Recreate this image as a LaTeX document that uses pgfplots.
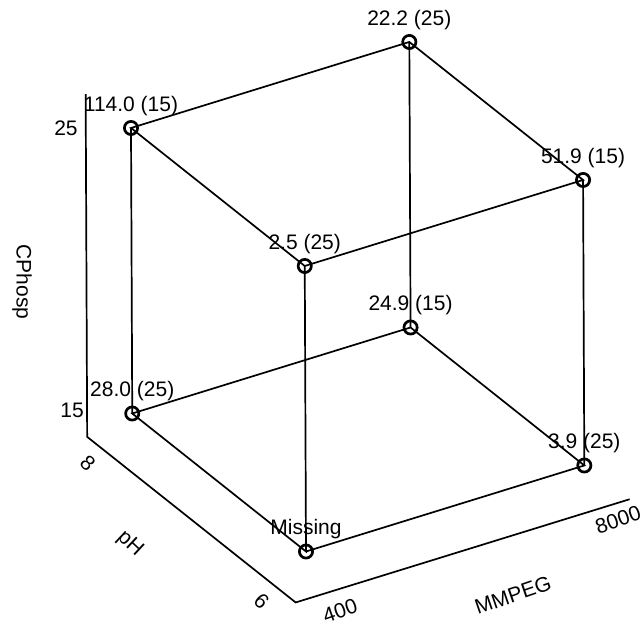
\documentclass[border=0pt]{standalone}
\usepackage{fontspec}
\setmainfont{Liberation Sans}
\usepackage{pgfplots}
\pgfplotsset{compat=1.18}
\begin{document}
\fontsize{10.5}{12}\selectfont
\begin{tikzpicture}
\begin{axis}[
  hide axis, clip=false,
  x={(0.018306pt,0.005658pt)},
  y={(-43.4375pt,34.5pt)},
  z={(-0.0625pt,14.275pt)},
  xmin=-360, xmax=8760, ymin=5.8, ymax=8.2, zmin=14, zmax=26,
]
\coordinate (O) at (axis cs:400,6,15);
% outer axis lines
\addplot3[black, line width=0.85pt, mark=none] coordinates {
  (-360,8.2,26) (-360,8.2,14) (-360,5.8,14) (8760,5.8,14)};
% cube edges
\addplot3[black, line width=0.85pt, mark=none] coordinates {
  (400,6,15) (8000,6,15) (8000,8,15) (400,8,15) (400,6,15)
  (400,6,25) (8000,6,25) (8000,8,25) (400,8,25) (400,6,25)};
\addplot3[black, line width=0.85pt, mark=none, unbounded coords=jump] coordinates {
  (8000,6,15) (8000,6,25) (nan,nan,nan)
  (8000,8,15) (8000,8,25) (nan,nan,nan)
  (400,8,15) (400,8,25)};
% design points with responses
\addplot3[only marks, mark=o, mark size=3.3pt,
  mark options={line width=1.35pt, black},
  point meta=explicit symbolic, nodes near coords,
  every node near coord/.append style={anchor=base, yshift=8.4pt, inner sep=0pt, text=black}]
  coordinates {
  (400,6,15) [Missing]
  (8000,6,15) [3.9 (25)]
  (400,8,15) [28.0 (25)]
  (8000,8,15) [24.9 (15)]
  (400,6,25) [2.5 (25)]
  (8000,6,25) [51.9 (15)]
  (400,8,25) [114.0 (15)]
  (8000,8,25) [22.2 (25)]
  };
% tick labels and axis labels
\node[xshift=-9.9pt, yshift=-2.6pt] at (axis cs:-360,8.2,25) {25};
\node[xshift=-7.5pt, yshift=-0.85pt] at (axis cs:-360,8.2,15) {15};
\node[xshift=-6.2pt, yshift=-7.85pt, rotate=-43] at (axis cs:-360,8.05,14) {8};
\node[xshift=-6.2pt, yshift=-7.85pt, rotate=-43] at (axis cs:-360,6.05,14) {6};
\node[xshift=-17.7pt, yshift=-22.3pt, rotate=-43] at (axis cs:-360,7.3,14) {pH};
\node[xshift=2.8pt, yshift=-10.2pt, rotate=19] at (axis cs:698,5.8,14) {400};
\node[xshift=2.4pt, yshift=-7.8pt, rotate=19] at (axis cs:8313,5.8,14) {8000};
\node[xshift=8.45pt, yshift=-27.3pt, rotate=19] at (axis cs:5112,5.8,14) {MMPEG};
\node[xshift=-32.2pt, yshift=-8.2pt, rotate=-90] at (axis cs:-360,8.2,20) {CPhosp};
\end{axis}
\pgfresetboundingbox
\path[use as bounding box] ([shift={(-153pt,-37.25pt)}]O) rectangle ([shift={(167.5pt,275.75pt)}]O);
\end{tikzpicture}
\end{document}
